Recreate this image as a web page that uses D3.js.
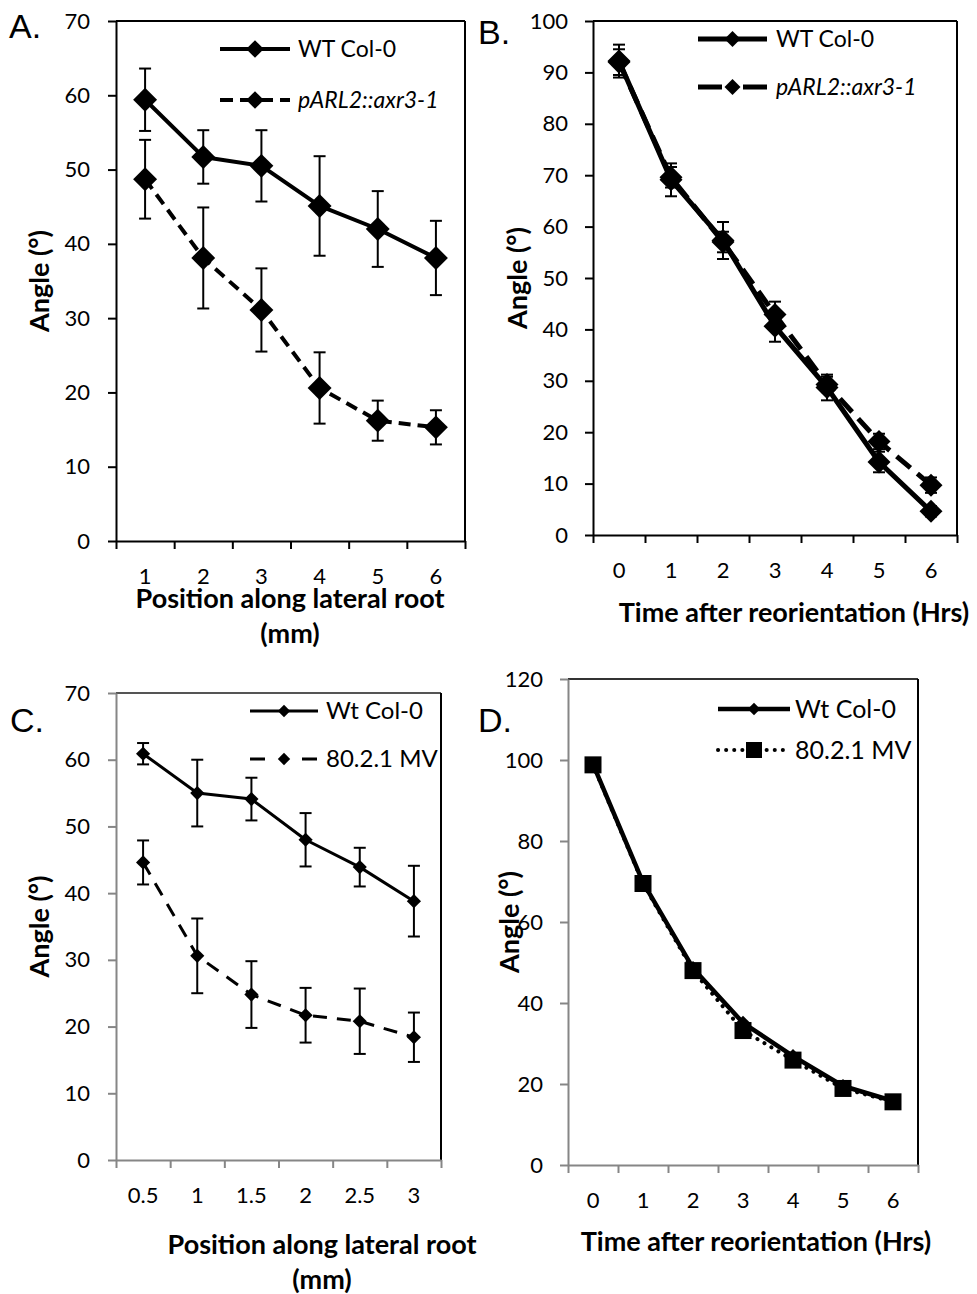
<!DOCTYPE html>
<html>
<head>
<meta charset="utf-8">
<script src="https://cdn.jsdelivr.net/npm/d3@7"></script>
<style>
  html, body { margin: 0; padding: 0; background: #fff; }
  svg { display: block; }
</style>
</head>
<body>
<svg id="fig" width="977" height="1294"></svg>
<script>
// ---- Panel A: angle along the lateral root, WT vs pARL2::axr3-1
const posA = ["1", "2", "3", "4", "5", "6"];
const wtA = [59.4, 51.7, 50.5, 45.1, 42.0, 38.1];
const wtAErr = [4.2, 3.6, 4.8, 6.7, 5.1, 5.0];
const mutA = [48.7, 38.1, 31.1, 20.6, 16.2, 15.3];
const mutAErr = [5.3, 6.8, 5.6, 4.8, 2.7, 2.3];

// ---- Panel B: angle over time after reorientation
const timeB = ["0", "1", "2", "3", "4", "5", "6"];
const wtB = [92.2, 69.1, 57.3, 40.6, 28.7, 14.2, 4.6];
const wtBErr = [3.2, 3.2, 3.6, 3.0, 2.5, 2.0, 1.0];
const mutB = [92.0, 69.6, 57.0, 42.9, 29.3, 18.2, 9.7];
const mutBErr = [2.5, 2.0, 2.0, 2.5, 1.5, 1.5, 1.5];

// ---- Panel C: angle along the lateral root, Wt vs 80.2.1 MV
const posC = ["0.5", "1", "1.5", "2", "2.5", "3"];
const wtC = [60.9, 55.0, 54.1, 48.0, 43.9, 38.8];
const wtCErr = [1.6, 5.0, 3.2, 4.0, 2.9, 5.3];
const mutC = [44.6, 30.6, 24.8, 21.7, 20.8, 18.4];
const mutCErr = [3.3, 5.6, 5.0, 4.1, 4.9, 3.7];

// ---- Panel D: angle over time, Wt vs 80.2.1 MV
const timeD = ["0", "1", "2", "3", "4", "5", "6"];
const wtD = [99.0, 69.8, 48.6, 35.1, 26.9, 19.5, 15.8];
const mutD = [98.8, 69.5, 48.0, 33.2, 25.9, 18.9, 15.6];

const FONT = "Lato, 'Open Sans', sans-serif";
const LETTER_FONT = "'Liberation Sans', Arial, sans-serif";
const TICK_FONT = 22;
const TITLE_FONT = 27;
const svg = d3.select("#fig");

function drawPanel(cfg) {
  const g = svg.append("g");
  const n = cfg.cats.length;
  const x = d3.scaleBand().domain(cfg.cats).range([cfg.x0, cfg.x1]);
  const bw = x.bandwidth();
  const xb = d3.scaleLinear().domain([0, n]).range([cfg.x0, cfg.x1]);
  const y = d3.scaleLinear().domain([0, cfg.yMax]).range([cfg.y1, cfg.y0]);
  const cx = (d, i) => x(cfg.cats[i]) + bw / 2;

  // plot frame (top and right)
  g.append("line").attr("x1", cfg.x0).attr("x2", cfg.x1).attr("y1", cfg.y0).attr("y2", cfg.y0)
    .attr("stroke", cfg.topColor).attr("stroke-width", 2);
  g.append("line").attr("x1", cfg.x1).attr("x2", cfg.x1).attr("y1", cfg.y0).attr("y2", cfg.y1)
    .attr("stroke", "#000").attr("stroke-width", 2);

  // y axis
  const ya = g.append("g").attr("transform", `translate(${cfg.x0},0)`)
    .call(d3.axisLeft(y).tickValues(d3.range(0, cfg.yMax + 0.01, cfg.yStep))
      .tickSize(8).tickSizeOuter(0).tickPadding(cfg.yPad));
  // x axis: tick marks on category boundaries
  const xa = g.append("g").attr("transform", `translate(0,${cfg.y1})`)
    .call(d3.axisBottom(xb).tickValues(d3.range(n + 1)).tickSize(8).tickSizeOuter(0).tickFormat(""));
  [ya, xa].forEach(a => {
    a.select(".domain").attr("stroke", cfg.axisColor).attr("stroke-width", 2);
    a.selectAll(".tick line").attr("stroke", cfg.axisColor).attr("stroke-width", 2);
  });
  ya.selectAll("text").attr("font-family", FONT).attr("font-size", TICK_FONT).attr("fill", "#000");
  // x tick labels at category centres
  const xl = g.append("g").attr("transform", `translate(0,${cfg.y1})`)
    .call(d3.axisBottom(x).tickSize(0));
  xl.select(".domain").remove();
  xl.selectAll("text").attr("font-family", FONT).attr("font-size", TICK_FONT).attr("fill", "#000")
    .attr("y", cfg.xLabOff).attr("dy", "0.35em");

  // series
  cfg.series.forEach(s => {
    const line = d3.line().x(cx).y(d => y(d));
    g.append("path").datum(s.values).attr("d", line).attr("fill", "none")
      .attr("stroke", "#000").attr("stroke-width", s.width)
      .attr("stroke-dasharray", s.dash || null)
      .attr("stroke-linecap", s.cap || "butt").attr("stroke-linejoin", "round");
    if (s.errors) {
      const eb = g.append("g").attr("stroke", "#000").attr("stroke-width", 2);
      s.values.forEach((v, i) => {
        const px = cx(v, i), e = s.errors[i];
        eb.append("line").attr("x1", px).attr("x2", px).attr("y1", y(v - e)).attr("y2", y(v + e));
        [v - e, v + e].forEach(w => eb.append("line").attr("x1", px - cfg.capW).attr("x2", px + cfg.capW)
          .attr("y1", y(w)).attr("y2", y(w)));
      });
    }
    const sym = d3.symbol().type(s.symbol).size(s.symSize);
    g.append("g").selectAll("path").data(s.values).join("path")
      .attr("transform", (d, i) => `translate(${cx(d, i)},${y(d)})`)
      .attr("d", sym).attr("fill", "#000");
  });

  // legend
  cfg.legend.forEach((s, k) => {
    const ly = cfg.legY[k];
    g.append("line").attr("x1", cfg.legX0).attr("x2", cfg.legX1).attr("y1", ly).attr("y2", ly)
      .attr("stroke", "#000").attr("stroke-width", s.width)
      .attr("stroke-dasharray", s.legDash || s.dash || null).attr("stroke-linecap", s.cap || "butt");
    g.append("path").attr("transform", `translate(${(cfg.legX0 + cfg.legX1) / 2},${ly})`)
      .attr("d", d3.symbol().type(s.symbol).size(s.legSize)).attr("fill", "#000");
    g.append("text").attr("x", cfg.legTextX).attr("y", ly).attr("dy", "0.35em")
      .attr("font-family", FONT).attr("font-size", cfg.legFont)
      .attr("font-style", s.italic ? "italic" : "normal").text(s.name);
  });

  // axis titles
  g.append("text").attr("transform", `translate(${cfg.yTitleX},${(cfg.y0 + cfg.y1) / 2}) rotate(-90)`)
    .attr("text-anchor", "middle").attr("dy", "0.35em")
    .attr("font-family", FONT).attr("font-weight", "bold").attr("font-size", TITLE_FONT).text("Angle (°)");
  cfg.xTitle.forEach((t, k) => {
    g.append("text").attr("x", cfg.xTitleX).attr("y", cfg.xTitleY[k]).attr("dy", "0.35em")
      .attr("text-anchor", "middle").attr("font-family", FONT).attr("font-weight", "bold")
      .attr("font-size", TITLE_FONT).text(t);
  });

  // panel letter
  svg.append("text").attr("x", cfg.letterX).attr("y", cfg.letterY)
    .attr("font-family", LETTER_FONT).attr("font-size", 34).text(cfg.letter);
}

const wtSeriesA = { name: "WT Col-0", values: wtA, errors: wtAErr, width: 4, symbol: d3.symbolDiamond2, symSize: 2 * 13.5 * 13.5, legSize: 2 * 10 * 10 };
const mutSeriesA = { name: "pARL2::axr3-1", italic: true, values: mutA, errors: mutAErr, width: 4, dash: "12,7", legDash: "13,7", symbol: d3.symbolDiamond2, symSize: 2 * 13.5 * 13.5, legSize: 2 * 10 * 10 };
drawPanel({
  letter: "A.", letterX: 9, letterY: 38,
  cats: posA, x0: 116, x1: 465, y0: 21, y1: 541, yMax: 70, yStep: 10, yPad: 18, xLabOff: 35,
  axisColor: "#000", topColor: "#000", capW: 6,
  series: [wtSeriesA, mutSeriesA], legend: [wtSeriesA, mutSeriesA],
  legX0: 220, legX1: 290, legY: [49, 100], legTextX: 298, legFont: 23,
  yTitleX: 40, xTitle: ["Position along lateral root", "(mm)"], xTitleX: 290, xTitleY: [599, 634]
});

const wtSeriesB = { name: "WT Col-0", values: wtB, errors: wtBErr, width: 5, symbol: d3.symbolDiamond2, symSize: 2 * 13 * 13, legSize: 2 * 9 * 9 };
const mutSeriesB = { name: "pARL2::axr3-1", italic: true, values: mutB, errors: mutBErr, width: 5, dash: "18,9", legDash: "24,21", symbol: d3.symbolDiamond2, symSize: 2 * 13 * 13, legSize: 2 * 9 * 9 };
drawPanel({
  letter: "B.", letterX: 478, letterY: 44,
  cats: timeB, x0: 593, x1: 957, y0: 21, y1: 535, yMax: 100, yStep: 10, yPad: 17, xLabOff: 35,
  axisColor: "#000", topColor: "#000", capW: 6,
  series: [wtSeriesB, mutSeriesB], legend: [wtSeriesB, mutSeriesB],
  legX0: 698, legX1: 767, legY: [39, 87], legTextX: 776, legFont: 23,
  yTitleX: 518, xTitle: ["Time after reorientation (Hrs)"], xTitleX: 794, xTitleY: [613]
});

const wtSeriesC = { name: "Wt Col-0", values: wtC, errors: wtCErr, width: 3, symbol: d3.symbolDiamond2, symSize: 2 * 8 * 8, legSize: 2 * 7 * 7 };
const mutSeriesC = { name: "80.2.1 MV", values: mutC, errors: mutCErr, width: 3, dash: "14,10", legDash: "15,37", symbol: d3.symbolDiamond2, symSize: 2 * 8 * 8, legSize: 2 * 7 * 7 };
drawPanel({
  letter: "C.", letterX: 10, letterY: 732,
  cats: posC, x0: 116, x1: 441, y0: 693, y1: 1160, yMax: 70, yStep: 10, yPad: 18, xLabOff: 35,
  axisColor: "#868686", topColor: "#555", capW: 6,
  series: [wtSeriesC, mutSeriesC], legend: [wtSeriesC, mutSeriesC],
  legX0: 250, legX1: 318, legY: [711, 759], legTextX: 326, legFont: 24,
  yTitleX: 40, xTitle: ["Position along lateral root", "(mm)"], xTitleX: 322, xTitleY: [1245, 1280]
});

const wtSeriesD = { name: "Wt Col-0", values: wtD, width: 4.5, symbol: d3.symbolDiamond2, symSize: 2 * 8 * 8, legSize: 2 * 7 * 7 };
const mutSeriesD = { name: "80.2.1 MV", values: mutD, width: 4, dash: "0.1,8", cap: "round", symbol: d3.symbolSquare, symSize: 17 * 17, legSize: 16 * 16 };
drawPanel({
  letter: "D.", letterX: 478, letterY: 732,
  cats: timeD, x0: 568, x1: 918, y0: 679, y1: 1165, yMax: 120, yStep: 20, yPad: 17, xLabOff: 35,
  axisColor: "#868686", topColor: "#333", capW: 6,
  series: [mutSeriesD, wtSeriesD], legend: [wtSeriesD, mutSeriesD],
  legX0: 718, legX1: 790, legY: [709, 750], legTextX: 795, legFont: 25,
  yTitleX: 510, xTitle: ["Time after reorientation (Hrs)"], xTitleX: 756, xTitleY: [1242]
});
</script>
</body>
</html>
